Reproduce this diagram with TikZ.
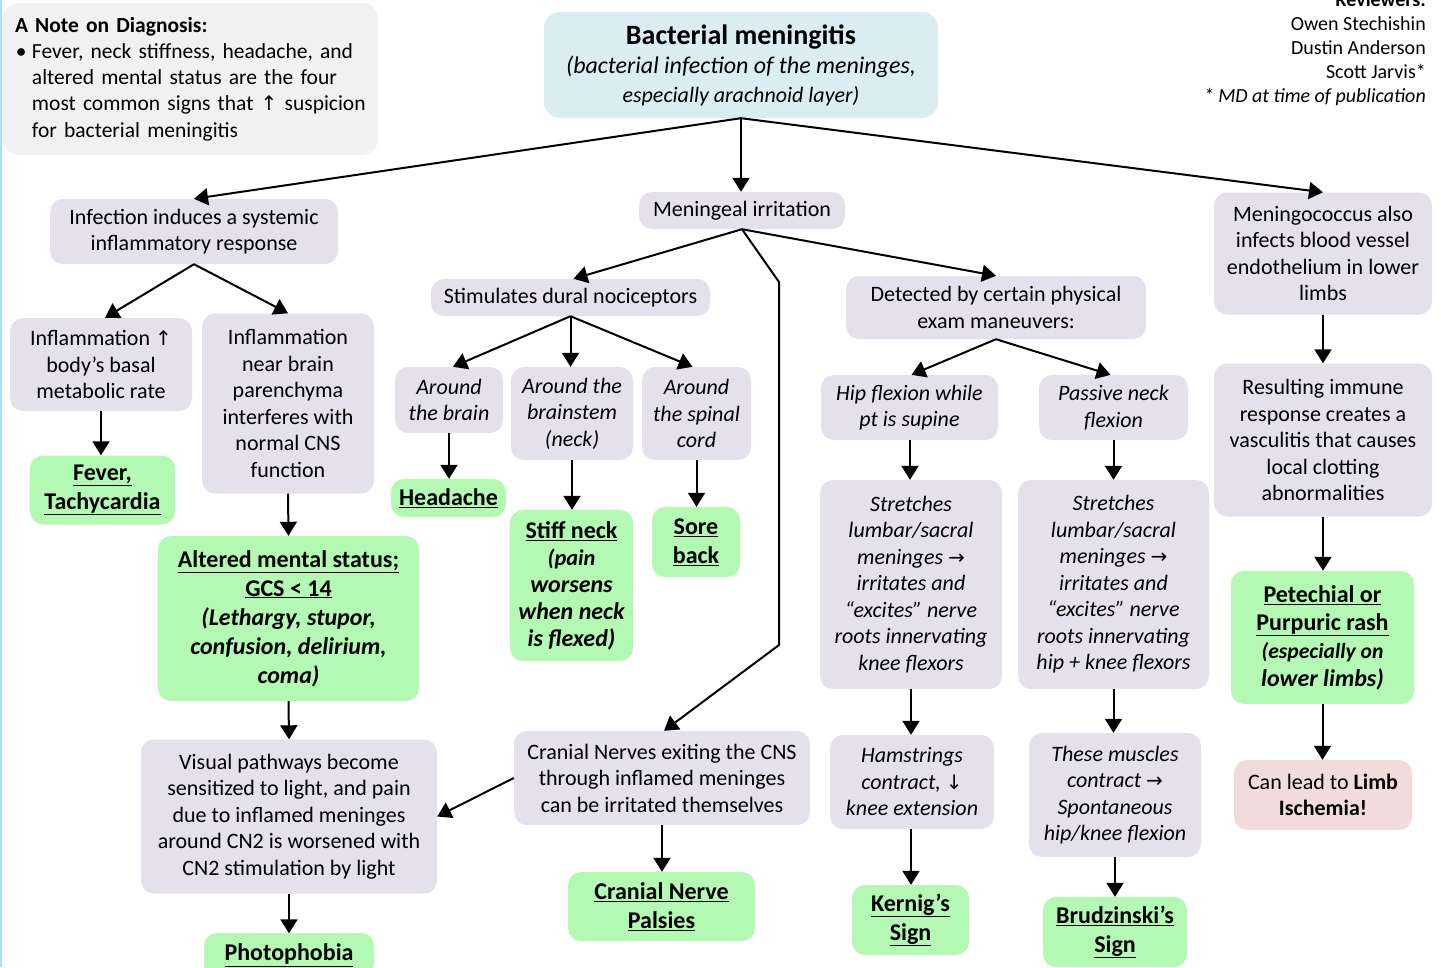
\documentclass[tikz,border=0pt]{standalone}
\usepackage{fontspec}
\setmainfont{Carlito}
\newfontfamily\symfnt{DejaVu Sans}
\usetikzlibrary{arrows.meta}
\definecolor{lav}{HTML}{E4E0EC}
\definecolor{grn}{HTML}{B3F9B3}
\definecolor{ttl}{HTML}{DAEDF3}
\definecolor{notegray}{HTML}{F1F1F1}
\definecolor{pinkish}{HTML}{F2DCDB}
\newcommand\bodyfnt{\fontsize{22}{26.5}\selectfont}
\newcommand\grnfnt{\fontsize{24}{29}\selectfont\bfseries}
\newcommand\upa{{\symfnt\fontsize{20}{20}\selectfont ↑}}
\newcommand\dna{{\symfnt\fontsize{20}{20}\selectfont ↓}}
\newcommand\rta{{\symfnt\fontsize{20}{20}\selectfont →}}
\tikzset{
  basebox/.style={rounded corners=13pt, inner sep=0pt, align=center, font=\bodyfnt},
  lav/.style={basebox, fill=lav},
  lavit/.style={basebox, fill=lav, font=\bodyfnt\itshape},
  grn/.style={basebox, fill=grn, font=\grnfnt},
  arr/.style={-{Triangle[width=17pt,length=14pt]}, line width=2pt},
}
\begin{document}
\begin{tikzpicture}[x=1pt,y=-1pt]
\useasboundingbox (0,0) rectangle (1441,967);
\fill[white] (0,0) rectangle (1441,967);
\draw[cyan!35, line width=2.5pt] (1,0) -- (1,967);

% note
\node[basebox, fill=notegray, font=\fontsize{21.5}{26.3}\selectfont, rounded corners=16pt, minimum width=375, minimum height=152, text width=351pt, align=left] (note) at (190.5,79)
{\textbf{A Note on Diagnosis:}\\
\makebox[17pt][l]{\hspace{1pt}\textbullet}Fever, neck stiffness, headache, and\\
\hspace*{17pt}altered mental status are the four\\
\hspace*{17pt}most common signs that \upa\ suspicion\\
\hspace*{17pt}for bacterial meningitis};

% reviewers
\node[anchor=north east, align=right, inner sep=0pt, font=\fontsize{20}{24}\selectfont] (rev) at (1426,-8)
{\textbf{Reviewers:}\\Owen Stechishin\\Dustin Anderson\\Scott Jarvis*\\\textit{* MD at time of publication}};

% title
\node[basebox, fill=ttl, rounded corners=16pt, minimum width=394, minimum height=106] (bm) at (741,65)
{{\fontsize{28}{30}\selectfont\bfseries Bacterial meningitis}\\[3pt]
\fontsize{24}{29}\selectfont\itshape (bacterial infection of the meninges,\\[2pt]\itshape especially arachnoid layer)};

% level 2
\node[lav, minimum width=288, minimum height=65] (infl) at (194,231.5) {Infection induces a systemic\\inflammatory response};
\node[lav, minimum width=206, minimum height=37] (mi) at (742,210.5) {Meningeal irritation};
\node[lav, minimum width=218, minimum height=122] (mgc) at (1323,253.5) {Meningococcus also\\infects blood vessel\\endothelium in lower\\limbs};

\draw[arr] (bm.south) -- (infl.north);
\draw[arr] (bm.south) -- (bm.south |- mi.north);
\draw[arr] (bm.south) -- (mgc.north);

% left branch
\node[lav, minimum width=182, minimum height=93] (bmr) at (101,364.5) {Inflammation \upa\\body’s basal\\metabolic rate};
\node[lav, minimum width=172, minimum height=180] (brain) at (288,403.5) {Inflammation\\near brain\\parenchyma\\interferes with\\normal CNS\\function};
\draw[arr] (infl.south) -- ([xshift=4pt]bmr.north);
\draw[arr] (infl.south) -- (brain.north);

\node[grn, minimum width=145, minimum height=69] (fever) at (102.5,490) {\underline{Fever,}\\\underline{Tachycardia}};
\draw[arr] (bmr.south) -- (bmr.south |- fever.north);

\node[grn, minimum width=261, minimum height=165] (ams) at (288.5,618.5)
{\underline{Altered mental status;}\\\underline{GCS < 14}\\\itshape (Lethargy, stupor,\\\itshape confusion, delirium,\\\itshape coma)};
\draw[arr] (brain.south) -- (ams.north);

\node[lav, minimum width=296, minimum height=154] (vis) at (289,816.5)
{Visual pathways become\\sensitized to light, and pain\\due to inflamed meninges\\around CN2 is worsened with\\CN2 stimulation by light};
\draw[arr] (ams.south) -- (vis.north);

\node[grn, minimum width=170, minimum height=44] (photo) at (289,955) {\underline{Photophobia}};
\draw[arr] (vis.south) -- ([yshift=-0.5pt]vis.south |- photo.north);

% dural nociceptors
\node[lav, minimum width=279, minimum height=37] (sdn) at (570.5,297.5) {Stimulates dural nociceptors};
\draw[arr] (mi.south) -- ([xshift=3pt]sdn.north);

\node[lavit, minimum width=108, minimum height=66] (atb) at (449,400) {Around\\the brain};
\node[lavit, minimum width=122, minimum height=93] (atbs) at (572,413.5) {Around the\\brainstem\\(neck)};
\node[lavit, minimum width=109, minimum height=93] (atsc) at (696.5,413.5) {Around\\the spinal\\cord};
\draw[arr] (sdn.south) -- ([xshift=4pt]atb.north);
\draw[arr] (sdn.south) -- (sdn.south |- atbs.north);
\draw[arr] (sdn.south) -- ([xshift=-4pt]atsc.north);

\node[grn, minimum width=115, minimum height=38] (head) at (448.5,498) {\underline{Headache}};
\draw[arr] (atb.south) -- (atb.south |- head.north);

\node[grn, minimum width=123, minimum height=151, font=\fontsize{24}{27}\selectfont\bfseries] (stiff) at (571.5,585.5)
{\underline{Stiff neck}\\\fontsize{22.4}{27}\selectfont\itshape (pain\\\itshape worsens\\\itshape when neck\\\itshape is flexed)};
\draw[arr] (atbs.south) -- (atbs.south |- stiff.north);

\node[grn, minimum width=88, minimum height=70] (sore) at (696,542) {\underline{Sore}\\\underline{back}};
\draw[arr] (atsc.south) -- (atsc.south |- sore.north);

% cranial nerves
\node[lav, minimum width=296, minimum height=94] (cn) at (662,778)
{Cranial Nerves exiting the CNS\\through inflamed meninges\\can be irritated themselves};
\coordinate (k1) at (779,282);
\coordinate (k2) at (779,645);
\draw[arr, line join=round] (mi.south) -- (k1) -- (k2) -- ([xshift=2pt]cn.north);
\draw[arr] (cn.west) -- (vis.east);

\node[grn, minimum width=187, minimum height=69] (cnp) at (661.5,906.5) {\underline{Cranial Nerve}\\\underline{Palsies}};
\draw[arr] (cn.south) -- (cn.south |- cnp.north);

% physical exam
\node[lav, minimum width=300, minimum height=63] (det) at (996,307.5) {Detected by certain physical\\exam maneuvers:};
\draw[arr] (mi.south) -- (det.north);

\node[lavit, minimum width=177, minimum height=65] (hip) at (909.5,407.5) {Hip flexion while\\pt is supine};
\node[lavit, minimum width=149, minimum height=65] (pnf) at (1113.5,407.5) {Passive neck\\flexion};
\draw[arr] (det.south) -- ([xshift=2pt]hip.north);
\draw[arr] (det.south) -- ([xshift=-3pt]pnf.north);

\node[lavit, minimum width=182, minimum height=209] (s1) at (911,584.5)
{Stretches\\lumbar/sacral\\meninges \rta\\irritates and\\“excites” nerve\\roots innervating\\knee flexors};
\node[lavit, minimum width=191, minimum height=209] (s2) at (1113.5,584.5)
{Stretches\\lumbar/sacral\\meninges \rta\\irritates and\\“excites” nerve\\roots innervating\\hip + knee flexors};
\draw[arr] ([xshift=0.5pt]hip.south) -- ([xshift=0.5pt]hip.south |- s1.north);
\draw[arr] (pnf.south) -- (pnf.south |- s2.north);

\node[lavit, minimum width=164, minimum height=94] (ham) at (912,782) {Hamstrings\\contract, \dna\\knee extension};
\node[lavit, minimum width=172, minimum height=124] (these) at (1115,795) {These muscles\\contract \rta\\Spontaneous\\hip/knee flexion};
\draw[arr] (s1.south) -- (s1.south |- ham.north);
\draw[arr] (s2.south) -- (s2.south |- these.north);

\node[grn, minimum width=117, minimum height=70] (kern) at (910.5,920) {\underline{Kernig’s}\\\underline{Sign}};
\node[grn, minimum width=144, minimum height=70] (brud) at (1115,932) {\underline{Brudzinski’s}\\\underline{Sign}};
\draw[arr] ([xshift=-1pt]ham.south) -- ([xshift=-1pt]ham.south |- kern.north);
\draw[arr] (these.south) -- (these.south |- brud.north);

% meningococcus branch
\node[lav, minimum width=218, minimum height=153] (resp) at (1323,440)
{Resulting immune\\response creates a\\vasculitis that causes\\local clotting\\abnormalities};
\draw[arr] (mgc.south) -- (resp.north);

\node[grn, minimum width=183, minimum height=133, font=\fontsize{24}{28}\selectfont\bfseries] (pete) at (1322.5,637.5)
{\underline{Petechial or}\\\underline{Purpuric rash}\\\fontsize{21.6}{27}\selectfont\itshape (especially on\\\itshape lower limbs)};
\draw[arr] (resp.south) -- (resp.south |- pete.north);

\node[basebox, fill=pinkish, minimum width=178, minimum height=70] (limb) at (1323,795)
{Can lead to \textbf{Limb}\\\textbf{Ischemia!}};
\draw[arr] (pete.south) -- (pete.south |- limb.north);
\end{tikzpicture}
\end{document}
